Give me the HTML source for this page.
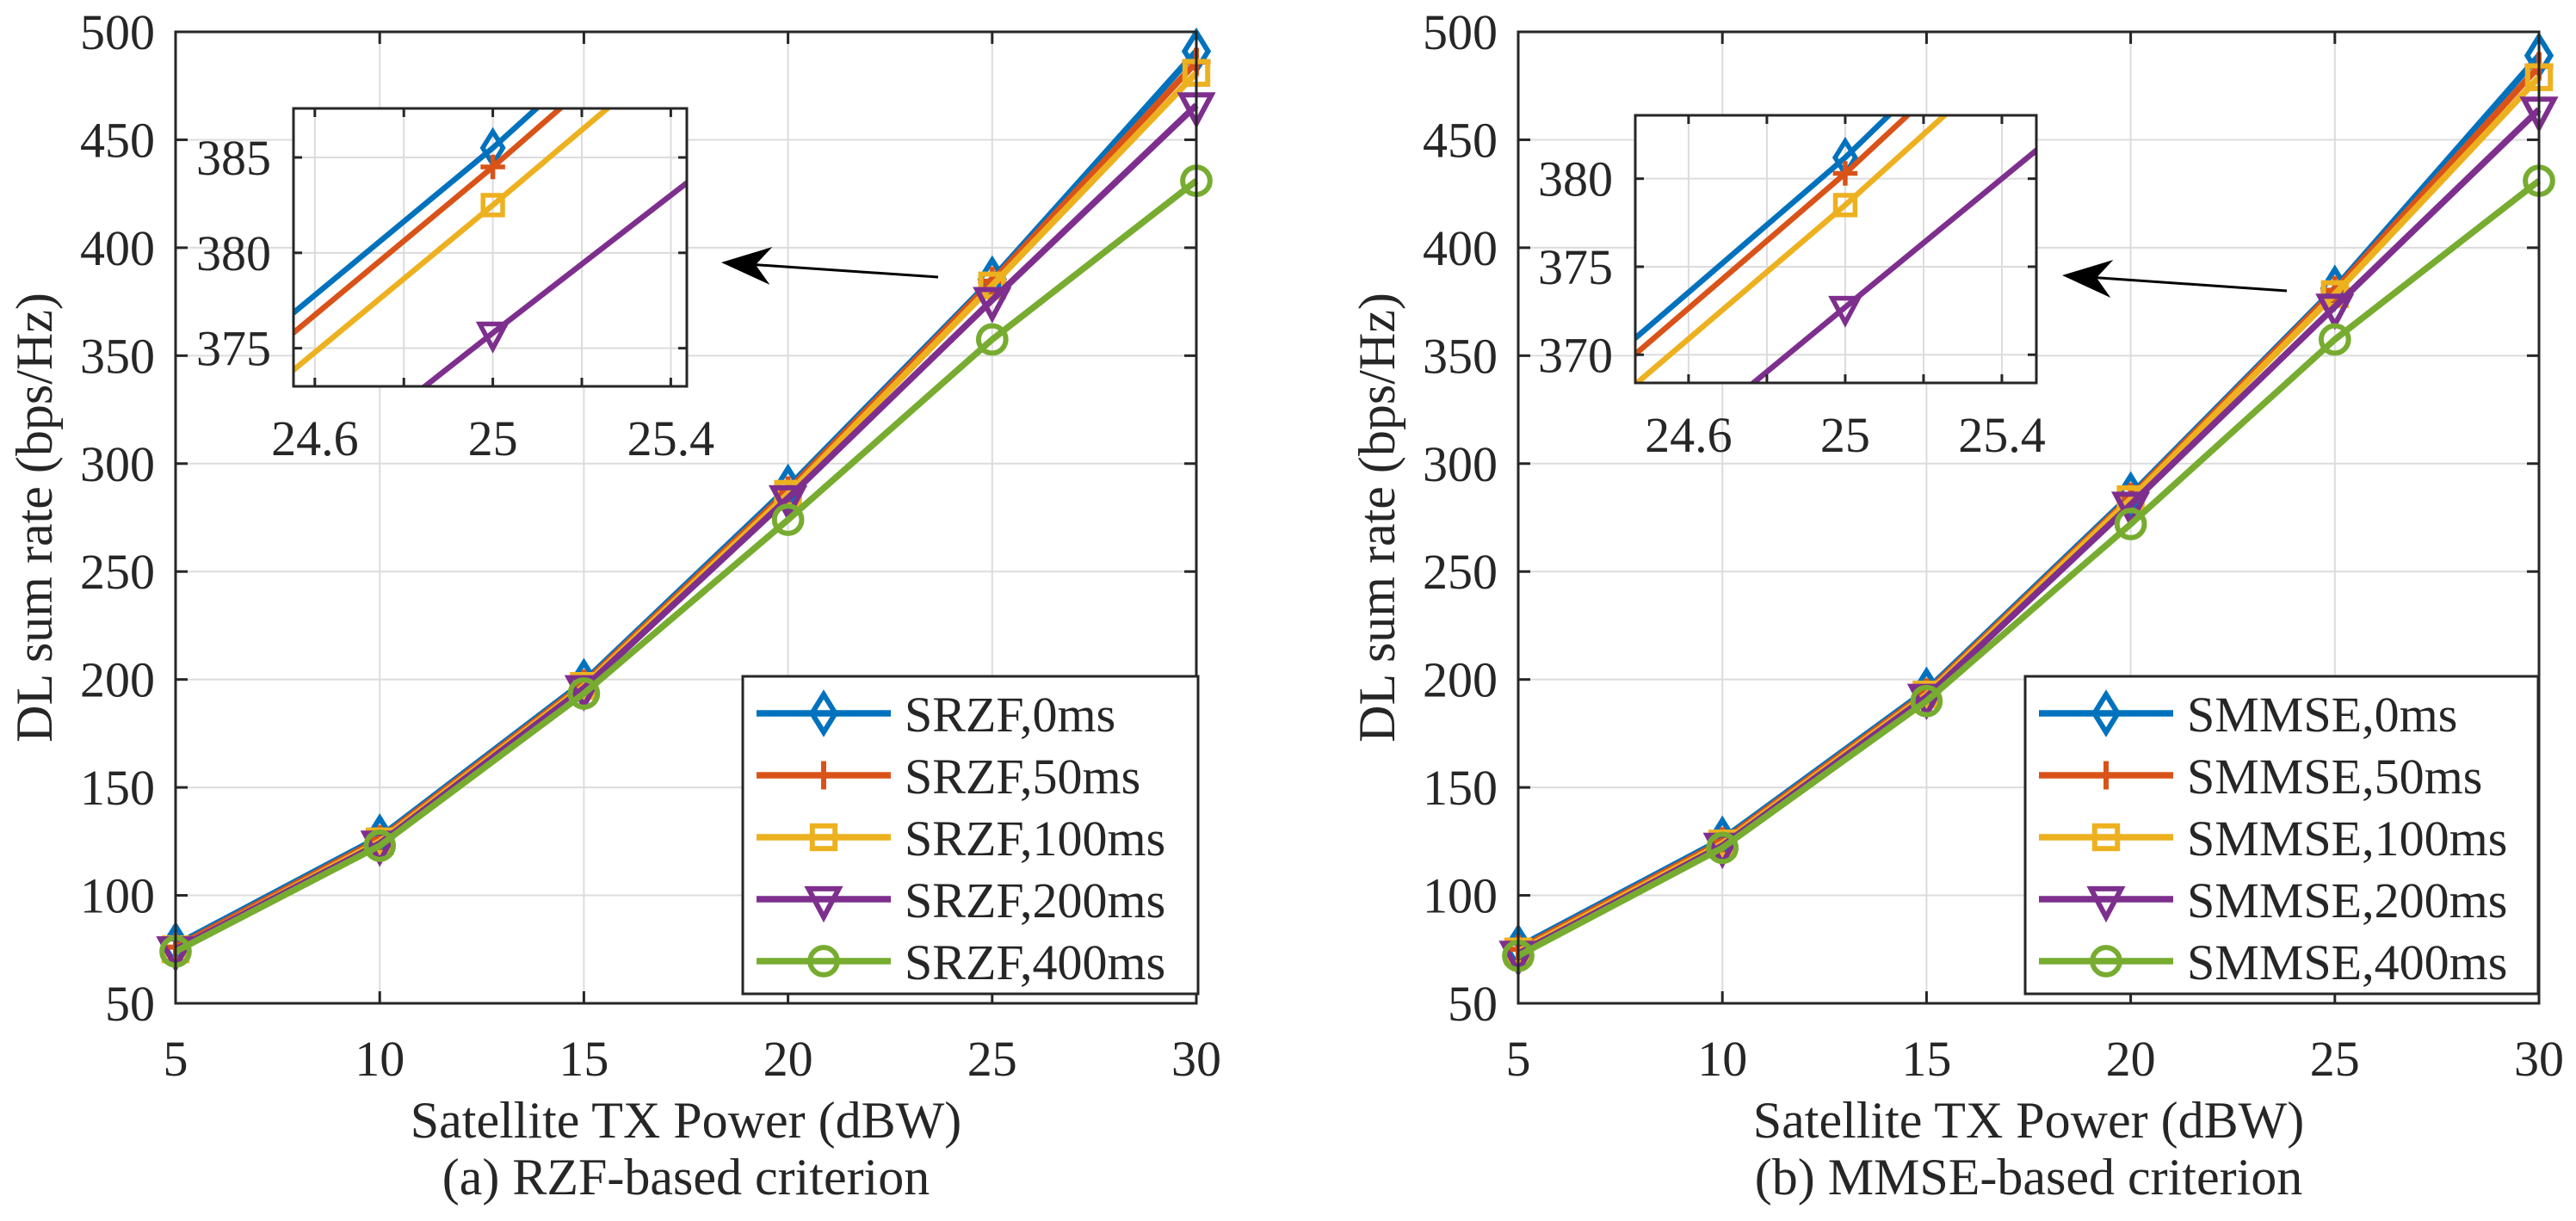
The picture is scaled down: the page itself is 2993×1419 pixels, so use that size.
<!DOCTYPE html>
<html><head><meta charset="utf-8"><style>
html,body{margin:0;padding:0;background:#fff;overflow:hidden;width:2993px;height:1419px}
svg{display:block}
text{font-family:"Liberation Serif","Times New Roman",serif;fill:#262626}
</style></head><body>
<svg id="fig" width="2993" height="1419" viewBox="0 0 2993 1419" xmlns="http://www.w3.org/2000/svg">
<rect width="2993" height="1419" fill="#fff"/>
</svg>
<script>
// ---- data ----
const xValues = [5, 10, 15, 20, 25, 30];
const xTicks = [5, 10, 15, 20, 25, 30];
const yTicks = [50, 100, 150, 200, 250, 300, 350, 400, 450, 500];
const rzf0 = [77, 127, 199, 289, 385.5, 491];
const rzf50 = [76, 126, 198, 287.5, 384.5, 486];
const rzf100 = [75, 125, 197, 286, 382.5, 481];
const rzf200 = [75, 124, 196, 284, 375.8, 466];
const rzf400 = [74, 123, 193.5, 274, 357.5, 431];
const mmse0 = [76, 126, 195, 285.5, 381.2, 489];
const mmse50 = [75, 125, 194, 284.5, 380.3, 484];
const mmse100 = [74, 124, 193, 283.5, 378.5, 479];
const mmse200 = [73, 123, 192, 281, 372.7, 464];
const mmse400 = [72, 122, 190, 272, 357.5, 431];
const rzfLabels = ["SRZF,0ms", "SRZF,50ms", "SRZF,100ms", "SRZF,200ms", "SRZF,400ms"];
const mmseLabels = ["SMMSE,0ms", "SMMSE,50ms", "SMMSE,100ms", "SMMSE,200ms", "SMMSE,400ms"];
const insetXTicks = [24.6, 24.8, 25, 25.2, 25.4];
const insetXLabels = ["24.6", "", "25", "", "25.4"];
const rzfInsetYTicks = [375, 380, 385];
const mmseInsetYTicks = [370, 375, 380];

const colors = ["#0072BD", "#D95319", "#EDB120", "#7E2F8E", "#77AC30"];
const markers = ["diamond", "plus", "square", "tri", "circle"];
const NS = "http://www.w3.org/2000/svg";
const svg = document.getElementById("fig");

function mk(tag, attrs, parent) {
  const e = document.createElementNS(NS, tag);
  for (const k in attrs) e.setAttribute(k, attrs[k]);
  (parent || svg).appendChild(e);
  return e;
}

function marker(g, type, cx, cy, s, color, sw) {
  let e;
  if (type === "diamond") {
    e = mk("polygon", {points: `${cx},${cy-s} ${cx+s*0.62},${cy} ${cx},${cy+s} ${cx-s*0.62},${cy}`, fill: "none", stroke: color, "stroke-width": sw}, g);
  } else if (type === "plus") {
    e = mk("path", {d: `M${cx-s*0.75},${cy}H${cx+s*0.75}M${cx},${cy-s*0.75}V${cy+s*0.75}`, stroke: color, "stroke-width": sw, fill: "none"}, g);
  } else if (type === "square") {
    e = mk("rect", {x: cx-s*0.6, y: cy-s*0.6, width: s*1.2, height: s*1.2, fill: "none", stroke: color, "stroke-width": sw}, g);
  } else if (type === "tri") {
    e = mk("polygon", {points: `${cx-s*0.8},${cy-s*0.55} ${cx+s*0.8},${cy-s*0.55} ${cx},${cy+s*0.95}`, fill: "none", stroke: color, "stroke-width": sw}, g);
  } else {
    e = mk("circle", {cx: cx, cy: cy, r: s*0.72, fill: "none", stroke: color, "stroke-width": sw}, g);
  }
  
  
  return e;
}

function panel(cfg) {
  const P = mk("g", {});
  
  
  const L = cfg.left, R = cfg.left + 1186, T = 37, B = 1166;
  const sx = v => L + (v - 5) / 25 * (R - L);
  const sy = v => B - (v - 50) / 450 * (B - T);
  const grid = mk("g", {stroke: "#dcdcdc", "stroke-width": 2}, P);
  
  
  xTicks.forEach(t => mk("line", {x1: sx(t), x2: sx(t), y1: T, y2: B}, grid));
  yTicks.forEach(t => mk("line", {x1: L, x2: R, y1: sy(t), y2: sy(t)}, grid));
  cfg.series.forEach((ys, i) => {
    const g = mk("g", {}, P);
    
    
    const pts = xValues.map((x, j) => sx(x) + "," + sy(ys[j])).join(" ");
    mk("polyline", {points: pts, fill: "none", stroke: colors[i], "stroke-width": 7.5, "stroke-linejoin": "round"}, g);
    xValues.forEach((x, j) => marker(g, markers[i], sx(x), sy(ys[j]), 22, colors[i], 6));
  });
  const ax = mk("g", {stroke: "#262626", "stroke-width": 3, fill: "none"}, P);
  
  
  mk("rect", {x: L, y: T, width: R - L, height: B - T}, ax);
  xTicks.forEach(t => { mk("line", {x1: sx(t), x2: sx(t), y1: B, y2: B - 14}, ax); mk("line", {x1: sx(t), x2: sx(t), y1: T, y2: T + 14}, ax); });
  yTicks.forEach(t => { mk("line", {x1: L, x2: L + 14, y1: sy(t), y2: sy(t)}, ax); mk("line", {x1: R, x2: R - 14, y1: sy(t), y2: sy(t)}, ax); });
  xTicks.forEach(t => {
    const e = mk("text", {x: sx(t), y: 1250, "font-size": 58, "text-anchor": "middle"}, P);
    e.textContent = t;
    
    
  });
  yTicks.forEach(t => {
    const e = mk("text", {x: L - 24, y: sy(t) + 20, "font-size": 58, "text-anchor": "end"}, P);
    e.textContent = t;
    
    
  });
  const xl = mk("text", {x: (L + R) / 2, y: 1322, "font-size": 60, "text-anchor": "middle"}, P);
  xl.textContent = "Satellite TX Power (dBW)";
  
  
  const cap = mk("text", {x: (L + R) / 2, y: 1388, "font-size": 60, "text-anchor": "middle"}, P);
  cap.textContent = cfg.caption;
  
  
  const yl = mk("text", {x: 0, y: 0, "font-size": 60, "text-anchor": "middle", transform: `translate(${cfg.ylabX},${(T + B) / 2}) rotate(-90)`}, P);
  yl.textContent = "DL sum rate (bps/Hz)";
  
  

  const I = cfg.inset;
  const ig = mk("g", {}, P);
  
  
  mk("rect", {x: I.l, y: I.t, width: I.r - I.l, height: I.b - I.t, fill: "#fff"}, ig);
  const ix = v => I.l + (v - I.x0) / (I.x1 - I.x0) * (I.r - I.l);
  const iy = v => I.b - (v - I.y0) / (I.y1 - I.y0) * (I.b - I.t);
  const ig2 = mk("g", {stroke: "#dcdcdc", "stroke-width": 2}, ig);
  insetXTicks.forEach(t => mk("line", {x1: ix(t), x2: ix(t), y1: I.t, y2: I.b}, ig2));
  I.yt.forEach(t => mk("line", {x1: I.l, x2: I.r, y1: iy(t), y2: iy(t)}, ig2));
  const cid = "clip-" + cfg.name;
  const cp = mk("clipPath", {id: cid}, ig);
  mk("rect", {x: I.l, y: I.t, width: I.r - I.l, height: I.b - I.t}, cp);
  const sg = mk("g", {"clip-path": `url(#${cid})`}, ig);
  cfg.series.forEach((ys, i) => {
    if (i === 4) return;
    const pts = xValues.map((x, j) => ix(x) + "," + iy(ys[j])).join(" ");
    const pl = mk("polyline", {points: pts, fill: "none", stroke: colors[i], "stroke-width": 6.5}, sg);
    
    
    marker(sg, markers[i], ix(25), iy(ys[4]), 19, colors[i], 5.5);
  });
  const ib = mk("g", {stroke: "#262626", "stroke-width": 3, fill: "none"}, ig);
  mk("rect", {x: I.l, y: I.t, width: I.r - I.l, height: I.b - I.t}, ib);
  insetXTicks.forEach(t => { mk("line", {x1: ix(t), x2: ix(t), y1: I.b, y2: I.b - 10}, ib); mk("line", {x1: ix(t), x2: ix(t), y1: I.t, y2: I.t + 10}, ib); });
  I.yt.forEach(t => { mk("line", {x1: I.l, x2: I.l + 10, y1: iy(t), y2: iy(t)}, ib); mk("line", {x1: I.r, x2: I.r - 10, y1: iy(t), y2: iy(t)}, ib); });
  insetXTicks.forEach((t, k) => {
    if (!insetXLabels[k]) return;
    const e = mk("text", {x: ix(t), y: I.b + 80, "font-size": 58, "text-anchor": "middle"}, ig);
    e.textContent = insetXLabels[k];
    
    
  });
  I.yt.forEach(t => {
    const e = mk("text", {x: I.l - 26, y: iy(t) + 20, "font-size": 58, "text-anchor": "end"}, ig);
    e.textContent = t;
    
    
  });
  const A = cfg.arrow;
  const ag = mk("g", {}, P);
  
  
  mk("line", {x1: A[0], y1: A[1], x2: A[2] + 30, y2: A[3] + 2, stroke: "#000", "stroke-width": 3}, ag);
  const ang = Math.atan2(A[3] - A[1], A[2] - A[0]);
  const ca = Math.cos(ang), sa = Math.sin(ang);
  const p = (d, w) => [A[2] - d * ca - w * -sa, A[3] - d * sa - w * ca];
  const q = [[A[2], A[3]], p(58, 22), p(40, 0), p(58, -22)].map(v => v.join(",")).join(" ");
  mk("polygon", {points: q, fill: "#000"}, ag);

  const Lg = cfg.legend;
  const lg = mk("g", {}, P);
  
  
  mk("rect", {x: Lg.l, y: Lg.t, width: Lg.r - Lg.l, height: Lg.b - Lg.t, fill: "#fff", stroke: "#262626", "stroke-width": 3}, lg);
  cfg.labels.forEach((lab, i) => {
    const y = Lg.t + 43 + i * 72;
    const eg = mk("g", {}, lg);
    
    
    mk("line", {x1: Lg.l + 16, x2: Lg.l + 172, y1: y, y2: y, stroke: colors[i], "stroke-width": 7.5}, eg);
    marker(eg, markers[i], Lg.l + 94, y, 22, colors[i], 6);
    const t = mk("text", {x: Lg.l + 188, y: y + 21, "font-size": 58}, eg);
    t.textContent = lab;
  });
}

panel({name: "rzf-panel", left: 204, caption: "(a) RZF-based criterion", ylabX: 60,
  series: [rzf0, rzf50, rzf100, rzf200, rzf400], labels: rzfLabels,
  inset: {l: 341, r: 798, t: 126, b: 449, x0: 24.552, x1: 25.436, y0: 373.0, y1: 387.57, yt: rzfInsetYTicks},
  arrow: [1090, 322, 838, 305],
  legend: {l: 863, r: 1392, t: 786, b: 1155}});
panel({name: "mmse-panel", left: 1764, caption: "(b) MMSE-based criterion", ylabX: 1620,
  series: [mmse0, mmse50, mmse100, mmse200, mmse400], labels: mmseLabels,
  inset: {l: 1900, r: 2366, t: 134, b: 445, x0: 24.464, x1: 25.488, y0: 368.4, y1: 383.6, yt: mmseInsetYTicks},
  arrow: [2657, 338, 2396, 320],
  legend: {l: 2353, r: 2949, t: 786, b: 1155}});
</script>
</body></html>
